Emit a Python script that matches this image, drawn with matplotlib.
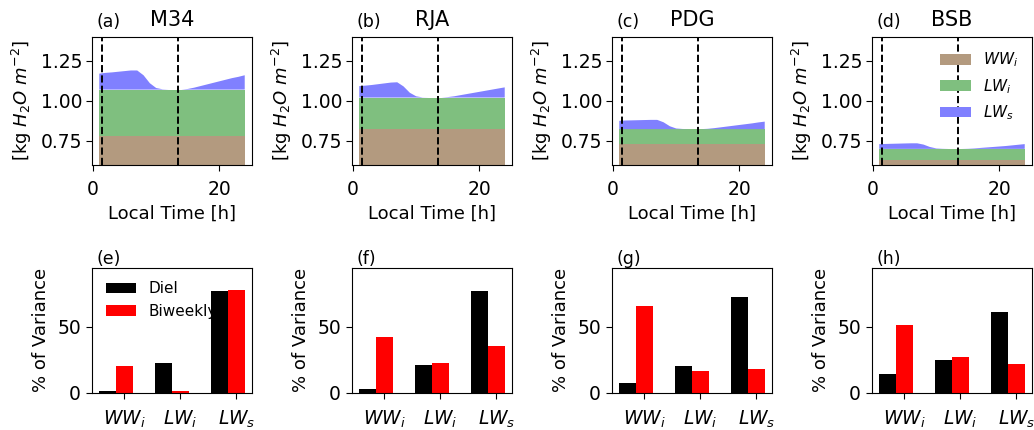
import matplotlib
matplotlib.use("Agg")
import matplotlib.pyplot as plt
import numpy as np

# ---------------- data ----------------
sites = ["M34", "RJA", "PDG", "BSB"]
top_letters = ["(a)", "(b)", "(c)", "(d)"]
bot_letters = ["(e)", "(f)", "(g)", "(h)"]
hours = np.arange(1, 25)

# invariant water pools [kg H2O m-2]
ww_i = [0.78, 0.825, 0.73, 0.63]
lw_i_top = [1.07, 1.02, 0.822, 0.698]   # top of WW_i + LW_i

# total water (WW_i + LW_i + LW_s) per hour
total_m34 = [1.170, 1.175, 1.178, 1.182, 1.186, 1.190, 1.190, 1.160, 1.110, 1.080, 1.072, 1.070,
             1.070, 1.070, 1.074, 1.082, 1.092, 1.102, 1.112, 1.122, 1.132, 1.142, 1.150, 1.160]
total_rja = [1.092, 1.095, 1.099, 1.104, 1.109, 1.114, 1.116, 1.090, 1.050, 1.028, 1.021, 1.020,
             1.020, 1.020, 1.023, 1.028, 1.035, 1.042, 1.049, 1.056, 1.063, 1.070, 1.077, 1.084]
total_pdg = [0.874, 0.876, 0.877, 0.878, 0.879, 0.880, 0.880, 0.865, 0.840, 0.826, 0.823, 0.822,
             0.822, 0.822, 0.824, 0.828, 0.833, 0.838, 0.843, 0.848, 0.853, 0.858, 0.864, 0.869]
total_bsb = [0.728, 0.729, 0.730, 0.731, 0.732, 0.733, 0.733, 0.725, 0.710, 0.701, 0.699, 0.698,
             0.698, 0.698, 0.699, 0.701, 0.704, 0.707, 0.710, 0.713, 0.716, 0.720, 0.724, 0.728]
totals = [total_m34, total_rja, total_pdg, total_bsb]

sunrise, sunset = 1.5, 13.5

# % of variance explained
components = ["$WW_i$", "$LW_i$", "$LW_s$"]
diel = [[0.8, 22.3, 76.9], [2.5, 20.7, 76.8], [7.5, 19.8, 72.7], [13.7, 25.0, 61.3]]
biweekly = [[20.5, 1.5, 78.0], [42.0, 22.3, 35.7], [65.7, 16.2, 18.1], [51.3, 26.8, 21.9]]

c_ww = "#b39a7f"
c_lwi = "#7fbf7f"
c_lws = "#8080ff"

# ---------------- figure ----------------
W, H = 1034, 430
fig = plt.figure(figsize=(W / 100, H / 100), dpi=100)


def px_axes(left, top, w, h):
    return fig.add_axes([left / W, 1 - (top + h) / H, w / W, h / H])


lefts = [92, 352, 612, 872]

for k in range(4):
    # ---- stacked water storage ----
    ax = px_axes(lefts[k], 37, 160, 127.5)
    tot = np.array(totals[k])
    ww = np.full(24, ww_i[k])
    lwi = np.full(24, lw_i_top[k] - ww_i[k])
    lws = np.clip(tot - lw_i_top[k], 0, None)
    ax.stackplot(hours, ww, lwi, lws, colors=[c_ww, c_lwi, c_lws],
                 labels=["$WW_i$", "$LW_i$", "$LW_s$"])
    ax.axvline(sunrise, color="k", ls="--", lw=1.4)
    ax.axvline(sunset, color="k", ls="--", lw=1.4)
    ax.set_ylim(0.6, 1.4)
    ax.set_yticks([0.75, 1.00, 1.25])
    ax.set_yticklabels(["0.75", "1.00", "1.25"])
    ax.set_xticks([0, 20])
    ax.tick_params(labelsize=13.5, length=4.5)
    ax.tick_params(axis="x", pad=7)
    ax.tick_params(axis="y", pad=2.5)
    ax.set_xlabel("Local Time [h]", fontsize=13, labelpad=4)
    ax.set_ylabel("[kg $H_2O$ $m^{-2}$]", fontsize=13, labelpad=5)
    ax.set_title(sites[k], fontsize=15, pad=8)
    ax.text(0.03, 1.075, top_letters[k], transform=ax.transAxes, fontsize=12.5,
            va="baseline")
    if k == 3:
        ax.legend(loc="upper right", frameon=False, fontsize=11)

    # ---- variance bars ----
    bx = px_axes(lefts[k], 267.5, 160, 125)
    x = np.arange(3)
    bx.bar(x - 0.3, diel[k], width=0.3, color="black", label="Diel")
    bx.bar(x, biweekly[k], width=0.3, color="red", label="Biweekly")
    bx.set_ylim(0, 95)
    bx.set_yticks([0, 50])
    bx.set_xticks(x)
    bx.set_xticklabels(components)
    bx.tick_params(labelsize=13.5, length=4.5)
    bx.tick_params(axis="x", pad=7)
    bx.set_ylabel("% of Variance", fontsize=13, labelpad=5)
    bx.text(0.03, 1.03, bot_letters[k], transform=bx.transAxes, fontsize=12.5,
            va="baseline")
    if k == 0:
        bx.legend(loc="upper left", frameon=False, fontsize=11)

fig.savefig("out.png", dpi=100)
